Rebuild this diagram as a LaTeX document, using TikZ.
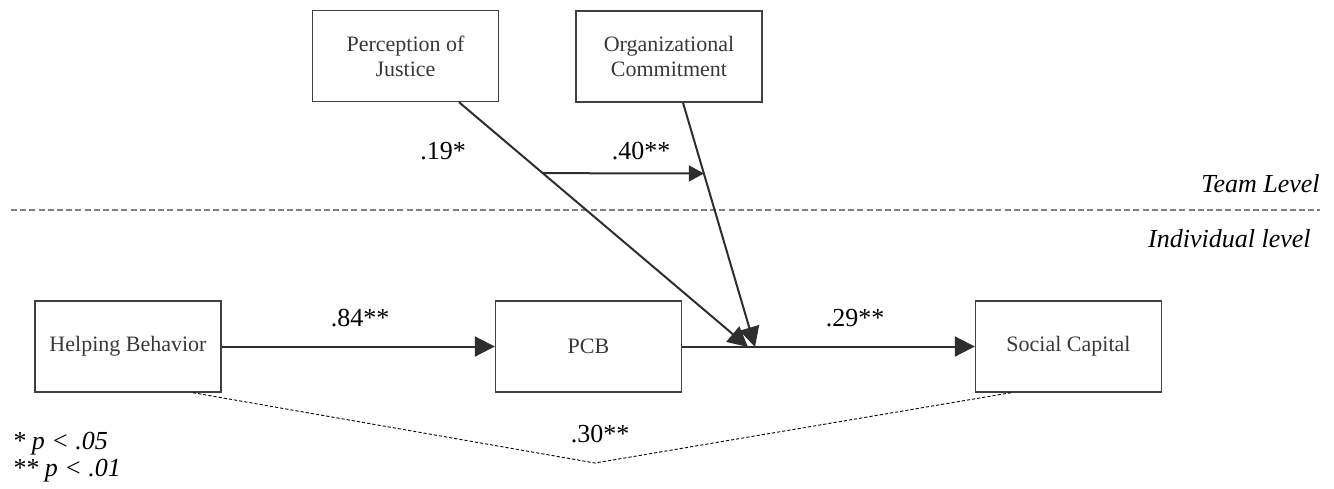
\documentclass[tikz,border=0pt]{standalone}
\usepackage{fontspec}
\setmainfont{Liberation Serif}
\usetikzlibrary{arrows.meta,calc}
\begin{document}
\begin{tikzpicture}[x=0.5pt,y=-0.5pt,
  varbox/.style={draw=black!75,line width=0.7pt,minimum width=93pt,minimum height=45.5pt,
    align=center,inner sep=0pt,text=black!78,font=\fontsize{11}{12.5}\selectfont},
  conn/.style={draw=black!82,line width=1pt},
  arr/.style={conn,-{Triangle[length=10pt,width=10pt]}},
  smallarr/.style={conn,-{Triangle[length=7.5pt,width=8pt]}},
  coef/.style={font=\fontsize{13}{15}\selectfont,inner sep=0pt,anchor=base},
  lvl/.style={font=\fontsize{13}{15}\selectfont\itshape,inner sep=0pt,anchor=base east},
  note/.style={font=\fontsize{13}{15}\selectfont\itshape,inner sep=0pt,anchor=base west},
  sep/.style={draw=black!50,line width=0.75pt,dash pattern=on 3pt off 1.6pt},
  corr/.style={draw=black,line width=0.45pt,dash pattern=on 1.6pt off 1pt}]
\useasboundingbox (0,0) rectangle (1334,488);

% boxes
\node[varbox] (pj) at (405.5,56) {Perception of\\Justice};
\node[varbox] (oc) at (669,56.5) {Organizational\\Commitment};
\node[varbox] (hb) at (128,346.5) {Helping Behavior};
\node[varbox] (pcb) at (588.5,346.5) {PCB};
\node[varbox] (sc) at (1068.5,346.5) {Social Capital};

% level separator
\coordinate (dl) at (11,210);
\coordinate (dr) at (1320,210);
\draw[sep] (dl) -- (dr);
\node[lvl] (team) at (1320,192) {Team Level};
\node[lvl] (indiv) at (1311,247) {Individual level};

% main paths
\draw[arr] (hb.east) -- (pcb.west);
\draw[arr] (pcb.east) -- (sc.west);

% moderators
\coordinate (p1) at ($(pj.south)+(53.5,0)$);
\coordinate (o1) at ($(oc.south)+(14,0)$);
\coordinate (jp) at (748,347);
\coordinate (jo) at (755,347);
\draw[arr] (p1) -- (jp);
\draw[arr] (o1) -- (jo);
\coordinate (ma) at ($(p1)!0.2898!(jp)$);
\coordinate (mb) at ($(o1)!0.2898!(jo)$);
\draw[smallarr] (ma) -- (mb);

% correlation
\coordinate (cl) at ($(hb.south)+(65,0)$);
\coordinate (cv) at (595,463);
\coordinate (cr) at ($(sc.south)+(-57.5,0)$);
\draw[corr] (cl) -- (cv) -- (cr);

% coefficients
\node[coef] (c19) at (443,159) {.19*};
\node[coef] (c40) at (641,159) {.40**};
\node[coef] (c84) at (360,326) {.84**};
\node[coef] (c29) at (855,326) {.29**};
\node[coef] (c30) at (600,442) {.30**};

% notes
\node[note] (n1) at (12,449) {* p < .05};
\node[note] (n2) at (12,476) {** p < .01};
\end{tikzpicture}
\end{document}
